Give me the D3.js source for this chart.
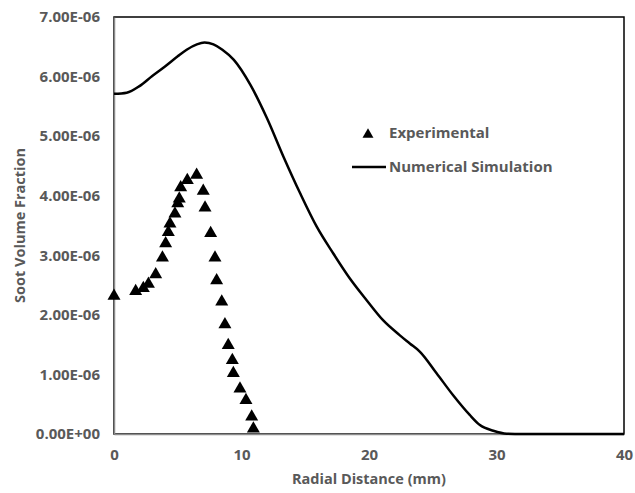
<!DOCTYPE html>
<html>
<head>
<meta charset="utf-8">
<script src="https://cdn.jsdelivr.net/npm/d3@7"></script>
<style>
  body { margin: 0; background: #fff; }
  svg text { font-family: "Open Sans", sans-serif; font-weight: 700; fill: #595959; }
</style>
</head>
<body>
<svg id="chart"></svg>
<script>
// experimental points (radial distance mm, soot volume fraction)
const expX = [0, 1.7, 2.3, 2.7, 3.27, 3.8, 4.05, 4.26, 4.39, 4.78, 5.0, 5.12, 5.23, 5.75, 6.48,
              7.0, 7.14, 7.58, 7.92, 8.05, 8.45, 8.7, 8.96, 9.28, 9.36, 9.88, 10.35, 10.8, 10.93];
const expY = [2.35e-6, 2.43e-6, 2.48e-6, 2.55e-6, 2.71e-6, 2.99e-6, 3.23e-6, 3.42e-6, 3.56e-6, 3.73e-6,
              3.9e-6, 3.98e-6, 4.17e-6, 4.29e-6, 4.38e-6, 4.11e-6, 3.83e-6, 3.40e-6, 2.99e-6, 2.61e-6,
              2.25e-6, 1.87e-6, 1.52e-6, 1.27e-6, 1.05e-6, 0.79e-6, 0.60e-6, 0.32e-6, 0.12e-6];

// numerical simulation curve
const simX = [0, 1, 2, 3, 4, 5, 5.7, 6.5, 7.1, 7.8, 8.5, 9.4, 10.7, 12.0, 13.3, 14.6, 15.9, 17.2,
              18.5, 19.8, 21.1, 22.4, 23.2, 24.0, 25.3, 26.6, 27.9, 28.7, 29.75, 30.8, 32, 40];
const simY = [5.71e-6, 5.73e-6, 5.84e-6, 6.01e-6, 6.17e-6, 6.34e-6, 6.45e-6, 6.54e-6, 6.57e-6, 6.54e-6,
              6.45e-6, 6.28e-6, 5.86e-6, 5.30e-6, 4.65e-6, 4.04e-6, 3.48e-6, 3.03e-6, 2.61e-6, 2.25e-6,
              1.91e-6, 1.66e-6, 1.52e-6, 1.38e-6, 1.02e-6, 0.65e-6, 0.32e-6, 0.15e-6, 0.055e-6, 0.005e-6, 0, 0];

const xTicks = [0, 10, 20, 30, 40];
const yTicks = [0, 1e-6, 2e-6, 3e-6, 4e-6, 5e-6, 6e-6, 7e-6];
const seriesNames = ['Experimental', 'Numerical Simulation'];

class SootChart {

    constructor(_config) {
        this.config = {
            parentElement: _config.parentElement,
            containerWidth: 635,
            containerHeight: 493,
            margin: { top: 17, bottom: 59, right: 11, left: 114 }
        }
        this.initVis();
    }

    initVis() {
        let vis = this;

        vis.width = vis.config.containerWidth - vis.config.margin.left - vis.config.margin.right;
        vis.height = vis.config.containerHeight - vis.config.margin.top - vis.config.margin.bottom;

        vis.svg = d3.select(vis.config.parentElement)
            .attr('width', vis.config.containerWidth)
            .attr('height', vis.config.containerHeight);

        vis.chart = vis.svg.append('g')
            .attr('transform', `translate(${vis.config.margin.left},${vis.config.margin.top})`);

        vis.xScale = d3.scaleLinear().domain([0, 40]).range([0, vis.width]);
        vis.yScale = d3.scaleLinear().domain([0, 7e-6]).range([vis.height, 0]);

        // Excel style scientific labels, e.g. 7.00E-06
        const sci = v => {
            if (v === 0) return '0.00E+00';
            let [m, e] = v.toExponential(2).split('e');
            let n = +e;
            return m + 'E' + (n < 0 ? '-' : '+') + String(Math.abs(n)).padStart(2, '0');
        };

        vis.xAxis = d3.axisBottom(vis.xScale).tickValues(xTicks).tickSize(0).tickPadding(15);
        vis.yAxis = d3.axisLeft(vis.yScale).tickValues(yTicks).tickSize(0).tickPadding(14).tickFormat(sci);

        // plot area border
        vis.chart.append('rect')
            .attr('width', vis.width)
            .attr('height', vis.height)
            .attr('fill', 'none')
            .attr('stroke', '#000')
            .attr('stroke-width', 1.5);

        vis.xAxisGroup = vis.chart.append('g')
            .attr('class', 'axis x-axis')
            .attr('transform', `translate(0,${vis.height})`);
        vis.yAxisGroup = vis.chart.append('g')
            .attr('class', 'axis y-axis');

        vis.renderVis();
    }

    renderVis() {
        let vis = this;

        vis.xAxisGroup.call(vis.xAxis);
        vis.yAxisGroup.call(vis.yAxis);
        vis.svg.selectAll('.axis').attr('font-size', null).attr('font-family', null);
        vis.svg.selectAll('.axis path').attr('stroke', '#8c8c8c').attr('stroke-width', 1.5);
        vis.svg.selectAll('.axis text').style('font-size', '15px');

        // simulation line
        const line = d3.line()
            .x(i => vis.xScale(simX[i]))
            .y(i => vis.yScale(simY[i]))
            .curve(d3.curveMonotoneX);

        vis.chart.append('path')
            .datum(d3.range(simX.length))
            .attr('d', line)
            .attr('fill', 'none')
            .attr('stroke', '#000')
            .attr('stroke-width', 2.5);

        // experimental triangles (centered on bounding box like Excel)
        const tri = d3.symbol(d3.symbolTriangle, 73);
        vis.chart.selectAll('.exp')
            .data(d3.range(expX.length))
            .join('path')
                .attr('class', 'exp')
                .attr('d', tri)
                .attr('fill', '#000')
                .attr('transform', i => `translate(${vis.xScale(expX[i])},${vis.yScale(expY[i]) + 1.9})`);

        // legend
        const legend = vis.svg.append('g').attr('transform', 'translate(352,133)');
        legend.append('path')
            .attr('d', d3.symbol(d3.symbolTriangle, 52))
            .attr('transform', 'translate(16,1.6)')
            .attr('fill', '#000');
        legend.append('text')
            .attr('x', 37).attr('dy', '0.35em')
            .style('font-size', '15px')
            .text(seriesNames[0]);
        legend.append('line')
            .attr('x1', 0).attr('x2', 34).attr('y1', 34).attr('y2', 34)
            .attr('stroke', '#000').attr('stroke-width', 2.5);
        legend.append('text')
            .attr('x', 37).attr('y', 34).attr('dy', '0.35em')
            .style('font-size', '15px')
            .text(seriesNames[1]);

        // axis titles
        vis.svg.append('text')
            .attr('x', vis.config.margin.left + vis.width / 2)
            .attr('y', 479).attr('dy', '0.35em')
            .attr('text-anchor', 'middle')
            .style('font-size', '14.5px')
            .text('Radial Distance (mm)');

        vis.svg.append('text')
            .attr('transform', `translate(20,${vis.config.margin.top + vis.height / 2}) rotate(-90)`)
            .attr('dy', '0.35em')
            .attr('text-anchor', 'middle')
            .style('font-size', '14.5px')
            .text('Soot Volume Fraction');
    }
}

new SootChart({ parentElement: '#chart' });
</script>
</body>
</html>
